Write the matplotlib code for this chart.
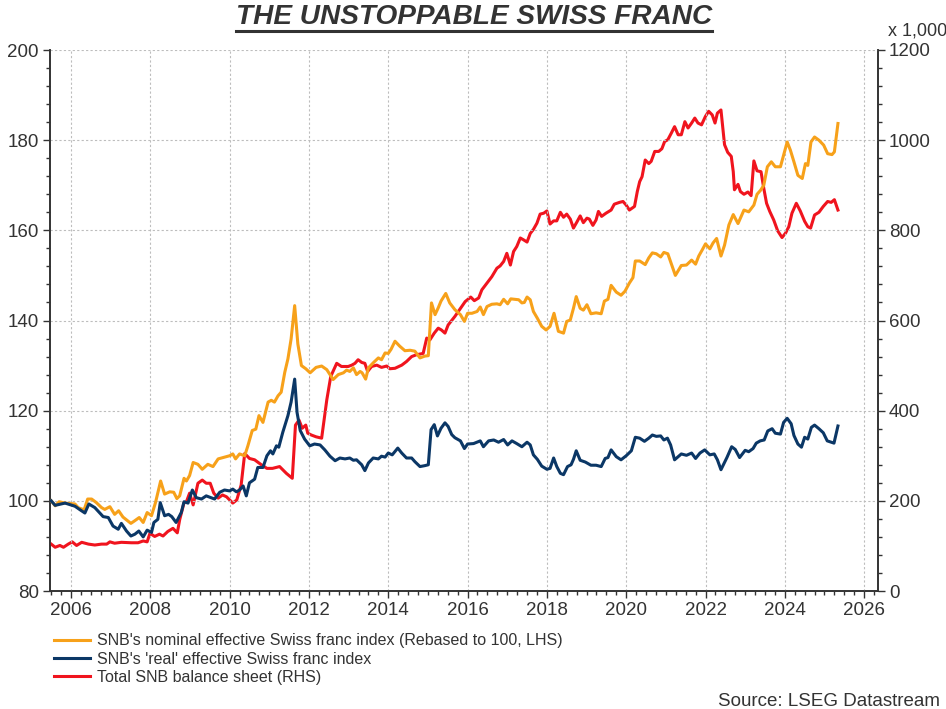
import numpy as np
import matplotlib
matplotlib.use('Agg')
import matplotlib.pyplot as plt
from matplotlib.ticker import MultipleLocator
from matplotlib.lines import Line2D

# nominal effective CHF index (LHS)
nom_years = [2005.50, 2005.60, 2005.70, 2005.85, 2006.10, 2006.18, 2006.33, 2006.42, 2006.52, 2006.64,
             2006.77, 2006.85, 2006.98, 2007.10, 2007.20, 2007.31, 2007.51, 2007.61, 2007.72, 2007.82,
             2007.92, 2008.03, 2008.13, 2008.26, 2008.36, 2008.49, 2008.59, 2008.67, 2008.74, 2008.85,
             2008.91, 2008.99, 2009.08, 2009.20, 2009.31, 2009.45, 2009.58, 2009.71, 2009.83, 2010.00,
             2010.08, 2010.15, 2010.25, 2010.38, 2010.46, 2010.57, 2010.66, 2010.74, 2010.84, 2010.97,
             2011.05, 2011.13, 2011.22, 2011.30, 2011.39, 2011.47, 2011.55, 2011.64, 2011.72, 2011.81,
             2011.92, 2012.03, 2012.18, 2012.32, 2012.45, 2012.61, 2012.74, 2012.87, 2012.95, 2013.03,
             2013.12, 2013.20, 2013.29, 2013.34, 2013.43, 2013.50, 2013.62, 2013.75, 2013.83, 2013.92,
             2014.00, 2014.07, 2014.17, 2014.29, 2014.42, 2014.55, 2014.67, 2014.80, 2014.92, 2015.01,
             2015.09, 2015.18, 2015.26, 2015.33, 2015.45, 2015.55, 2015.68, 2015.82, 2015.92, 2016.00,
             2016.11, 2016.24, 2016.32, 2016.40, 2016.49, 2016.61, 2016.74, 2016.82, 2016.91, 2017.01,
             2017.09, 2017.20, 2017.29, 2017.37, 2017.43, 2017.50, 2017.58, 2017.66, 2017.76, 2017.87,
             2017.98, 2018.08, 2018.18, 2018.29, 2018.42, 2018.50, 2018.59, 2018.67, 2018.74, 2018.84,
             2018.92, 2019.01, 2019.11, 2019.24, 2019.37, 2019.45, 2019.54, 2019.62, 2019.75, 2019.87,
             2019.97, 2020.08, 2020.17, 2020.23, 2020.34, 2020.48, 2020.57, 2020.66, 2020.76, 2020.87,
             2020.95, 2021.05, 2021.16, 2021.24, 2021.39, 2021.52, 2021.65, 2021.75, 2021.83, 2021.92,
             2022.00, 2022.11, 2022.19, 2022.28, 2022.39, 2022.48, 2022.59, 2022.70, 2022.82, 2022.97,
             2023.09, 2023.22, 2023.30, 2023.39, 2023.47, 2023.56, 2023.66, 2023.76, 2023.89, 2023.97,
             2024.06, 2024.14, 2024.23, 2024.33, 2024.44, 2024.52, 2024.58, 2024.66, 2024.75, 2024.86,
             2024.98, 2025.08, 2025.19, 2025.25, 2025.34]
nom_vals = [100.0, 98.9, 99.8, 99.5, 99.3, 98.5, 98.0, 100.4, 100.4, 99.6,
            98.5, 98.1, 98.7, 97.0, 97.8, 96.4, 95.0, 95.6, 96.3, 95.2,
            97.4, 96.7, 99.6, 104.4, 101.5, 102.0, 101.9, 100.5, 101.1, 105.0,
            104.4, 105.6, 108.5, 108.1, 107.0, 108.1, 107.6, 109.3, 109.6, 110.0,
            110.4, 109.3, 110.4, 110.0, 112.2, 115.6, 115.9, 118.9, 117.4, 121.9,
            122.3, 121.9, 123.3, 124.1, 128.5, 131.5, 135.9, 143.3, 134.8, 130.0,
            129.3, 128.4, 129.6, 129.9, 129.1, 126.9, 128.0, 128.4, 129.0, 128.7,
            129.5, 128.0, 128.7, 128.4, 127.0, 129.5, 130.6, 131.7, 131.3, 132.8,
            132.7, 133.6, 135.4, 134.3, 133.3, 133.4, 133.2, 131.7, 132.1, 132.2,
            143.9, 141.3, 142.8, 144.3, 146.0, 143.9, 142.4, 141.3, 139.8, 141.6,
            141.6, 142.0, 143.0, 141.3, 143.1, 143.6, 143.7, 143.5, 144.7, 143.7,
            144.8, 144.7, 144.6, 143.9, 144.0, 145.2, 144.6, 142.0, 140.5, 138.7,
            137.9, 138.7, 141.6, 137.6, 137.2, 139.8, 140.1, 142.7, 145.3, 142.7,
            142.3, 143.5, 141.5, 141.7, 141.5, 144.3, 144.7, 147.8, 146.3, 145.6,
            146.5, 148.3, 149.5, 153.2, 153.2, 152.4, 153.9, 155.0, 154.8, 154.1,
            155.1, 154.8, 152.0, 150.0, 152.2, 152.3, 153.4, 152.5, 154.3, 155.7,
            157.0, 155.9, 157.2, 158.2, 154.3, 156.7, 161.2, 163.5, 161.5, 164.5,
            164.1, 165.6, 168.0, 168.9, 170.0, 174.1, 175.2, 174.1, 174.1, 176.7,
            179.6, 177.8, 175.2, 172.2, 171.5, 174.8, 174.4, 179.6, 180.7, 180.0,
            178.9, 177.0, 176.8, 177.4, 183.7]

# 'real' effective CHF index (LHS)
real_years = [2005.50, 2005.60, 2005.85, 2006.10, 2006.23, 2006.35, 2006.45, 2006.60, 2006.81, 2006.94,
              2007.06, 2007.19, 2007.27, 2007.40, 2007.51, 2007.61, 2007.71, 2007.82, 2007.92, 2008.03,
              2008.09, 2008.19, 2008.25, 2008.36, 2008.46, 2008.54, 2008.65, 2008.78, 2008.85, 2008.95,
              2009.06, 2009.16, 2009.29, 2009.41, 2009.62, 2009.75, 2009.87, 2010.00, 2010.08, 2010.17,
              2010.25, 2010.34, 2010.42, 2010.50, 2010.63, 2010.71, 2010.84, 2010.94, 2011.03, 2011.09,
              2011.18, 2011.24, 2011.34, 2011.47, 2011.55, 2011.64, 2011.70, 2011.78, 2011.89, 2012.02,
              2012.14, 2012.28, 2012.40, 2012.53, 2012.66, 2012.78, 2012.91, 2013.03, 2013.12, 2013.20,
              2013.33, 2013.41, 2013.50, 2013.62, 2013.75, 2013.83, 2013.92, 2014.00, 2014.10, 2014.24,
              2014.34, 2014.46, 2014.59, 2014.67, 2014.80, 2014.92, 2015.01, 2015.08, 2015.16, 2015.24,
              2015.33, 2015.43, 2015.51, 2015.60, 2015.68, 2015.82, 2015.92, 2016.00, 2016.15, 2016.32,
              2016.40, 2016.53, 2016.66, 2016.78, 2016.91, 2017.01, 2017.12, 2017.24, 2017.37, 2017.50,
              2017.58, 2017.66, 2017.76, 2017.87, 2018.00, 2018.08, 2018.17, 2018.25, 2018.34, 2018.42,
              2018.52, 2018.61, 2018.67, 2018.74, 2018.84, 2018.97, 2019.11, 2019.24, 2019.37, 2019.47,
              2019.54, 2019.62, 2019.75, 2019.87, 2020.00, 2020.13, 2020.23, 2020.34, 2020.46, 2020.57,
              2020.66, 2020.76, 2020.87, 2020.95, 2021.04, 2021.12, 2021.22, 2021.39, 2021.52, 2021.65,
              2021.75, 2021.86, 2021.98, 2022.11, 2022.22, 2022.30, 2022.39, 2022.49, 2022.54, 2022.66,
              2022.75, 2022.86, 2023.00, 2023.09, 2023.20, 2023.28, 2023.38, 2023.48, 2023.57, 2023.68,
              2023.76, 2023.89, 2023.97, 2024.06, 2024.16, 2024.23, 2024.33, 2024.42, 2024.50, 2024.58,
              2024.67, 2024.75, 2024.86, 2024.97, 2025.07, 2025.24, 2025.34]
real_vals = [100.0, 99.0, 99.5, 98.8, 98.0, 97.3, 99.3, 98.5, 96.5, 96.3,
             94.4, 93.7, 95.0, 93.3, 92.2, 92.6, 93.3, 92.0, 93.5, 93.0,
             95.2, 95.9, 99.6, 96.7, 97.0, 96.5, 95.2, 97.4, 99.8, 99.5,
             102.4, 100.7, 100.4, 101.1, 100.4, 101.9, 102.4, 102.2, 102.6, 102.0,
             102.4, 103.3, 101.1, 104.0, 104.8, 107.4, 107.4, 110.0, 111.1, 110.4,
             112.2, 111.9, 115.2, 118.9, 121.9, 127.0, 119.6, 115.6, 113.7, 112.2,
             112.6, 112.4, 111.3, 109.9, 108.9, 109.5, 109.3, 109.5, 109.0, 109.1,
             108.0, 106.7, 108.4, 109.5, 109.3, 109.9, 109.7, 110.6, 110.2, 111.7,
             110.6, 109.5, 109.5, 108.7, 107.6, 107.8, 108.0, 115.8, 116.9, 114.4,
             116.1, 117.3, 116.5, 114.7, 114.0, 113.3, 111.6, 112.6, 112.7, 113.3,
             112.0, 113.3, 113.5, 113.0, 113.6, 112.4, 113.3, 112.7, 112.0, 113.0,
             112.4, 110.2, 109.2, 107.7, 107.0, 107.2, 109.5, 107.6, 106.1, 105.8,
             107.6, 108.0, 109.2, 111.1, 109.0, 108.6, 107.9, 107.9, 107.6, 109.4,
             109.6, 111.3, 109.8, 109.1, 110.0, 111.1, 114.1, 113.9, 113.2, 113.9,
             114.6, 114.3, 114.4, 113.5, 113.9, 112.4, 109.1, 110.4, 110.1, 110.6,
             109.4, 110.6, 111.3, 110.2, 110.4, 109.1, 106.9, 108.7, 109.6, 112.0,
             111.4, 109.6, 111.2, 110.9, 111.6, 112.8, 113.3, 113.5, 115.5, 116.0,
             115.0, 114.8, 117.4, 118.3, 117.1, 114.5, 112.6, 111.9, 114.1, 113.7,
             116.3, 116.8, 116.0, 115.1, 113.3, 112.8, 116.6]

# total SNB balance sheet (RHS, x 1,000)
bs_years = [2005.50, 2005.60, 2005.72, 2005.81, 2005.93, 2006.03, 2006.14, 2006.27, 2006.44, 2006.60,
            2006.77, 2006.90, 2006.98, 2007.10, 2007.27, 2007.52, 2007.69, 2007.82, 2007.92, 2007.99,
            2008.11, 2008.23, 2008.32, 2008.44, 2008.57, 2008.68, 2008.74, 2008.85, 2008.91, 2008.99,
            2009.08, 2009.20, 2009.31, 2009.41, 2009.51, 2009.60, 2009.71, 2009.82, 2009.92, 2010.00,
            2010.08, 2010.18, 2010.29, 2010.38, 2010.50, 2010.63, 2010.80, 2010.94, 2011.08, 2011.26,
            2011.43, 2011.58, 2011.66, 2011.75, 2011.83, 2011.92, 2011.97, 2012.06, 2012.18, 2012.32,
            2012.45, 2012.55, 2012.70, 2012.82, 2012.99, 2013.08, 2013.16, 2013.24, 2013.33, 2013.41,
            2013.48, 2013.58, 2013.71, 2013.83, 2013.96, 2014.04, 2014.17, 2014.34, 2014.46, 2014.59,
            2014.71, 2014.88, 2014.97, 2015.05, 2015.16, 2015.26, 2015.34, 2015.43, 2015.51, 2015.68,
            2015.82, 2015.94, 2016.08, 2016.17, 2016.28, 2016.36, 2016.49, 2016.61, 2016.74, 2016.82,
            2016.91, 2016.99, 2017.08, 2017.16, 2017.24, 2017.33, 2017.41, 2017.50, 2017.58, 2017.66,
            2017.75, 2017.83, 2017.92, 2018.00, 2018.08, 2018.17, 2018.25, 2018.34, 2018.42, 2018.50,
            2018.59, 2018.67, 2018.76, 2018.84, 2018.92, 2019.01, 2019.07, 2019.16, 2019.24, 2019.30,
            2019.38, 2019.49, 2019.62, 2019.70, 2019.83, 2019.92, 2020.00, 2020.08, 2020.21, 2020.28,
            2020.34, 2020.40, 2020.48, 2020.57, 2020.63, 2020.72, 2020.82, 2020.90, 2020.97, 2021.05,
            2021.14, 2021.22, 2021.31, 2021.39, 2021.48, 2021.56, 2021.65, 2021.73, 2021.81, 2021.90,
            2022.00, 2022.08, 2022.17, 2022.24, 2022.30, 2022.39, 2022.48, 2022.56, 2022.65, 2022.70,
            2022.73, 2022.82, 2022.88, 2022.97, 2023.07, 2023.15, 2023.22, 2023.30, 2023.40, 2023.47,
            2023.54, 2023.62, 2023.72, 2023.82, 2023.93, 2024.02, 2024.10, 2024.18, 2024.29, 2024.39,
            2024.50, 2024.58, 2024.65, 2024.75, 2024.86, 2024.97, 2025.08, 2025.17, 2025.25, 2025.34]
bs_vals = [104, 97, 101, 97, 104, 109, 101, 108, 104, 102,
           104, 104, 109, 106, 108, 107, 107, 111, 109, 128,
           121, 126, 122, 132, 139, 129, 158, 196, 198, 217,
           191, 239, 246, 239, 239, 217, 206, 213, 209, 202,
           195, 202, 235, 305, 294, 291, 280, 272, 272, 276,
           261, 250, 368, 379, 361, 368, 350, 346, 342, 339,
           424, 476, 505, 498, 498, 501, 505, 513, 507, 505,
           487, 498, 501, 496, 499, 493, 494, 501, 509, 520,
           524, 527, 561, 557, 572, 583, 579, 572, 590, 609,
           627, 642, 652, 644, 650, 668, 683, 697, 716, 721,
           731, 749, 723, 753, 764, 783, 779, 774, 793, 802,
           816, 836, 838, 843, 814, 821, 821, 840, 829, 836,
           825, 805, 819, 832, 817, 827, 825, 811, 823, 842,
           831, 838, 845, 858, 862, 864, 856, 845, 853, 886,
           908, 919, 956, 948, 953, 975, 975, 981, 997, 1001,
           1016, 1030, 1012, 1012, 1041, 1027, 1038, 1049, 1038, 1034,
           1053, 1064, 1056, 1038, 1060, 1067, 990, 973, 964, 930,
           890, 902, 886, 880, 885, 877, 954, 932, 930, 893,
           860, 842, 823, 799, 784, 794, 808, 838, 860, 843,
           820, 808, 805, 834, 840, 853, 864, 862, 868, 845]

x_ticks = [2006, 2008, 2010, 2012, 2014, 2016, 2018, 2020, 2022, 2024, 2026]
labels = ["SNB's nominal effective Swiss franc index (Rebased to 100, LHS)",
          "SNB's 'real' effective Swiss franc index",
          "Total SNB balance sheet (RHS)"]

c_orange = '#F7A11A'
c_navy = '#0B3766'
c_red = '#F0141E'
txt = '#333333'

plt.rcParams['font.family'] = ['Liberation Sans', 'DejaVu Sans']

fig = plt.figure(figsize=(9.46, 7.09), dpi=100)
ax = fig.add_axes([50/946, 1 - 591/709, 828/946, 541/709])
ax2 = ax.twinx()

l1, = ax.plot(nom_years, nom_vals, color=c_orange, lw=2.2, zorder=3)
l2, = ax.plot(real_years, real_vals, color=c_navy, lw=2.2, zorder=3)
l3, = ax2.plot(bs_years, bs_vals, color=c_red, lw=2.2, zorder=3)

ax.set_xlim(2005.47, 2026.35)
ax.set_ylim(80, 200)
ax2.set_ylim(0, 1200)
ax.set_xticks(x_ticks)
ax.xaxis.set_minor_locator(MultipleLocator(0.25))
ax.yaxis.set_major_locator(MultipleLocator(20))
ax.yaxis.set_minor_locator(MultipleLocator(4))
ax2.yaxis.set_major_locator(MultipleLocator(200))
ax2.yaxis.set_minor_locator(MultipleLocator(40))

ax.grid(True, which='major', color='#bdbdbd', linestyle=(0, (2, 2)), linewidth=0.8)
ax.set_axisbelow(True)

for a in (ax, ax2):
    a.spines['top'].set_visible(False)
    for s in ('left', 'right', 'bottom'):
        a.spines[s].set_color(txt)
        a.spines[s].set_linewidth(1.2)
    a.tick_params(which='both', direction='out', color=txt, width=1)
    a.tick_params(which='major', length=5, labelsize=13.5, labelcolor=txt, pad=3)
    a.tick_params(which='minor', length=3)
ax.patch.set_visible(False)
ax2.set_zorder(ax.get_zorder() - 1)
ax.set_zorder(ax2.get_zorder() + 1)

fig.text(888/946, 1 - 31/709, 'x 1,000', fontsize=13, color=txt, ha='left', va='center')

title = fig.text(474/946, 1 - 17/709, 'THE UNSTOPPABLE SWISS FRANC', fontsize=20.2,
                 fontweight='bold', fontstyle='italic', color=txt, ha='center', va='center')
fig.canvas.draw()
bb = title.get_window_extent().transformed(fig.transFigure.inverted())
fig.add_artist(Line2D([bb.x0, bb.x1], [1 - 31/709, 1 - 31/709], color=txt, lw=2.2,
                      transform=fig.transFigure))

fig.legend([l1, l2, l3], labels, loc='upper left', bbox_to_anchor=(48/946, 1 - 627/709),
           frameon=False, fontsize=11.5, handlelength=2.2, handletextpad=0.45,
           labelspacing=0.2, borderaxespad=0, labelcolor=txt)

fig.text(940/946, 1 - 701/709, 'Source: LSEG Datastream', fontsize=13.5, color=txt,
         ha='right', va='center')

fig.savefig('out.png', dpi=100)
